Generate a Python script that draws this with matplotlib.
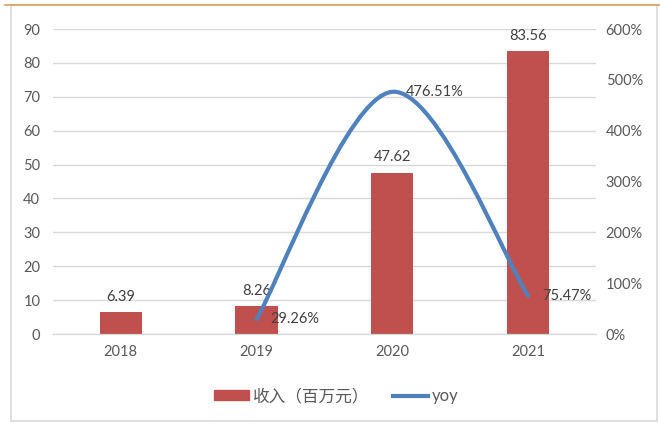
import matplotlib.pyplot as plt
from matplotlib.path import Path
from matplotlib.patches import PathPatch, Rectangle
from matplotlib.lines import Line2D

years = ["2018", "2019", "2020", "2021"]
revenue = [6.39, 8.26, 47.62, 83.56]
yoy_years = [1, 2, 3]  # category positions of 2019-2021
yoy = [29.26, 476.51, 75.47]

BAR_COLOR = "#C0504D"
LINE_COLOR = "#4F81BD"
TEXT_COLOR = "#595959"
GRID_COLOR = "#D9D9D9"
FONT = ["Lato", "Noto Sans CJK SC", "DejaVu Sans"]

plt.rcParams["font.family"] = FONT
plt.rcParams["font.size"] = 10.5


def smooth_path(xs, ys):
    # cubic bezier through the points, control points at 1/6 of the neighbour span
    pts = list(zip(xs, ys))
    verts = [pts[0]]
    codes = [Path.MOVETO]
    for i in range(len(pts) - 1):
        p_prev = pts[i - 1] if i > 0 else pts[i]
        p0 = pts[i]
        p1 = pts[i + 1]
        p_next = pts[i + 2] if i + 2 < len(pts) else p1
        c1 = (p0[0] + (p1[0] - p_prev[0]) / 6, p0[1] + (p1[1] - p_prev[1]) / 6)
        c2 = (p1[0] - (p_next[0] - p0[0]) / 6, p1[1] - (p_next[1] - p0[1]) / 6)
        verts += [c1, c2, p1]
        codes += [Path.CURVE4] * 3
    return Path(verts, codes)


fig = plt.figure(figsize=(6.6, 4.23), dpi=100)
ax = fig.add_axes([0.080, 0.2104, 0.823, 0.721])
ax2 = ax.twinx()

x = list(range(len(years)))
bars = ax.bar(x, revenue, width=0.31, color=BAR_COLOR, zorder=2)
ax.bar_label(bars, labels=[f"{v:.2f}" for v in revenue], padding=6, color="#404040", fontsize=10.5)

ax.set_xlim(-0.5, 3.5)
ax.set_ylim(0, 90)
ax.set_yticks(range(0, 91, 10))
ax.set_xticks(x)
ax.set_xticklabels(years)
ax.grid(axis="y", color=GRID_COLOR, linewidth=1, zorder=0)
ax.set_axisbelow(True)

ax2.set_ylim(0, 600)
ax2.set_yticks(range(0, 601, 100))
ax2.set_yticklabels([f"{v}%" for v in range(0, 601, 100)])

curve = PathPatch(smooth_path(yoy_years, yoy), facecolor="none", edgecolor=LINE_COLOR,
                  linewidth=3, capstyle="round", zorder=3)
ax2.add_patch(curve)
for xi, yi in zip(yoy_years, yoy):
    ax2.annotate(f"{yi:.2f}%", (xi, yi), xytext=(10, 0), textcoords="offset points",
                 ha="left", va="center", color="#404040", fontsize=10.5, zorder=4)

for a in (ax, ax2):
    for side in ("top", "left", "right"):
        a.spines[side].set_visible(False)
    a.spines["bottom"].set_color(GRID_COLOR)
    a.tick_params(length=0, colors=TEXT_COLOR, labelsize=10.5)
ax.tick_params(axis="y", pad=9)
ax.tick_params(axis="x", pad=8)
ax2.tick_params(axis="y", pad=7)

handles = [Rectangle((0, 0), 1, 1, color=BAR_COLOR),
           Line2D([0], [0], color=LINE_COLOR, linewidth=3)]
fig.legend(handles, ["收入（百万元）", "yoy"], loc="center", bbox_to_anchor=(0.51, 0.064),
           ncol=2, frameon=False, handlelength=2.1, handleheight=0.5, handletextpad=0.25,
           columnspacing=1.4, labelcolor=TEXT_COLOR, fontsize=12)

# chart frame
fig.add_artist(Rectangle((11 / 660, 2 / 423), 646 / 660, 416 / 423, transform=fig.transFigure,
                         fill=False, edgecolor="#D9D9D9", linewidth=1.2))
fig.add_artist(Line2D([5 / 660, 1], [1 - 5 / 423, 1 - 5 / 423], transform=fig.transFigure,
                      color="#D9A05B", linewidth=1.2))

fig.savefig("out.png", dpi=100)
